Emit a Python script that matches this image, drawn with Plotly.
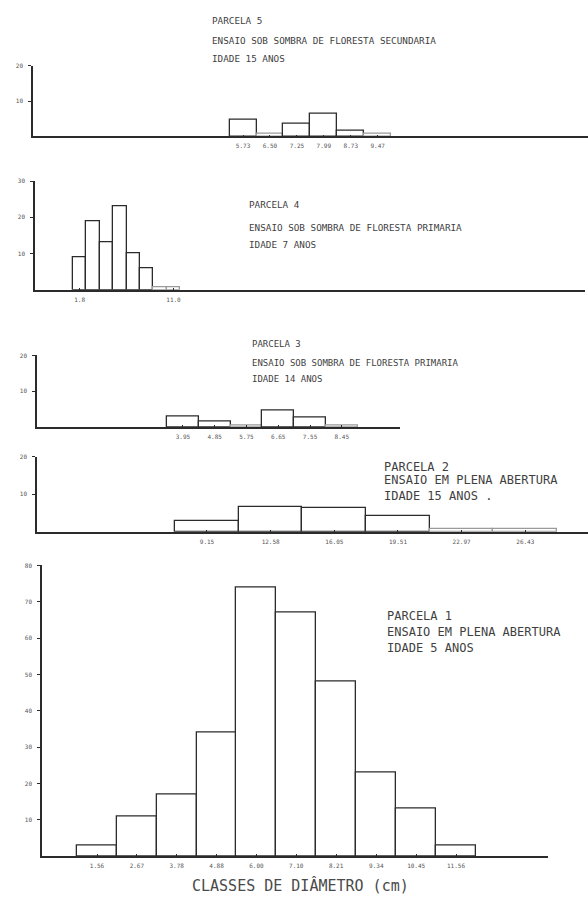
import plotly.graph_objects as go

W, H = 588, 898

# ---------------- data ----------------
# Parcela 1 - ensaio em plena abertura, idade 5 anos
p1_centers = [1.56, 2.67, 3.78, 4.89, 6.00, 7.11, 8.22, 9.34, 10.45, 11.56]
p1_labels = ["1.56", "2.67", "3.78", "4.88", "6.00", "7.10", "8.21", "9.34", "10.45", "11.56"]
p1_freq = [3, 11, 17, 34, 74, 67, 48, 23, 13, 3]

# Parcela 2 - ensaio em plena abertura, idade 15 anos
p2_centers = [9.13, 12.59, 16.05, 19.51, 22.97, 26.43]
p2_labels = ["9.15", "12.58", "16.05", "19.51", "22.97", "26.43"]
p2_freq = [2.9, 6.7, 6.4, 4.1, 0.8, 0.8]

# Parcela 3 - sombra de floresta primaria, idade 14 anos
p3_centers = [3.95, 4.85, 5.75, 6.65, 7.55, 8.45]
p3_labels = ["3.95", "4.85", "5.75", "6.65", "7.55", "8.45"]
p3_freq = [2.9, 1.6, 0.6, 4.7, 2.7, 0.5]

# Parcela 4 - sombra de floresta primaria, idade 7 anos
p4_centers = [1.80, 3.11, 4.43, 5.74, 7.06, 8.37, 9.69, 11.00]
p4_tickvals = [1.8, 11.0]
p4_labels = ["1.8", "11.0"]
p4_freq = [9, 19, 13, 23, 10, 6, 0.6, 0.6]

# Parcela 5 - sombra de floresta secundaria, idade 15 anos
p5_centers = [5.77, 6.51, 7.25, 7.99, 8.73, 9.47]
p5_labels = ["5.73", "6.50", "7.25", "7.99", "8.73", "9.47"]
p5_freq = [4.8, 0.7, 3.7, 6.5, 1.7, 0.7]

# y tick values per panel
p1_yticks = [10, 20, 30, 40, 50, 60, 70, 80]
p2_yticks = [10, 20]
p3_yticks = [10, 20]
p4_yticks = [10, 20, 30]
p5_yticks = [10, 20]

# panel captions
p1_text = ["PARCELA 1", "ENSAIO EM PLENA ABERTURA", "IDADE 5 ANOS"]
p2_text = ["PARCELA 2", "ENSAIO EM PLENA ABERTURA", "IDADE 15 ANOS ."]
p3_text = ["PARCELA 3", "ENSAIO SOB SOMBRA DE FLORESTA PRIMARIA", "IDADE 14 ANOS"]
p4_text = ["PARCELA 4", "ENSAIO SOB SOMBRA DE FLORESTA PRIMARIA", "IDADE 7 ANOS"]
p5_text = ["PARCELA 5", "ENSAIO SOB SOMBRA DE FLORESTA SECUNDARIA", "IDADE 15 ANOS"]
x_title = "CLASSES DE DIÂMETRO (cm)"

# ---------------- layout geometry (pixels) ----------------
# left, right, baseline, top, ymax, px position of x=0, px per cm
geo = {
    1: dict(left=42, right=548, base=856, top=564, ymax=80, zero=41.0, scale=35.9),
    2: dict(left=37, right=588, base=530, top=455, ymax=20, zero=39.0, scale=18.4),
    3: dict(left=37, right=400, base=425, top=353, ymax=20, zero=43.5, scale=35.3),
    4: dict(left=35, right=585, base=287, top=178, ymax=30, zero=61.3, scale=10.2),
    5: dict(left=33, right=588, base=133, top=62, ymax=20, zero=33.0, scale=36.4),
}

panels = {
    1: (p1_centers, p1_freq, p1_centers, p1_labels, p1_yticks, p1_text, (385, [615, 631, 647], 12)),
    2: (p2_centers, p2_freq, p2_centers, p2_labels, p2_yticks, p2_text, (382, [465, 478, 494], 12)),
    3: (p3_centers, p3_freq, p3_centers, p3_labels, p3_yticks, p3_text, (250, [342, 361, 377], 9.0)),
    4: (p4_centers, p4_freq, p4_tickvals, p4_labels, p4_yticks, p4_text, (247, [201, 225, 242], 9.3)),
    5: (p5_centers, p5_freq, p5_centers, p5_labels, p5_yticks, p5_text, (210, [17, 37, 55], 9.3)),
}

INK = "#2b2b2b"
FAINT = "#9a9a9a"
TXT = "#3f3f3f"
MONO = "DejaVu Sans Mono"

fig = go.Figure()
annotations = []
layout_axes = {}

for i in [1, 2, 3, 4, 5]:
    centers, freq, tv, tt, yt, caption, (tx, tys, tsize) = panels[i]
    g = geo[i]
    width = (centers[-1] - centers[0]) / (len(centers) - 1)
    line_cols = [INK if v >= 1 else FAINT for v in freq]
    xa = "x" if i == 1 else f"x{i}"
    ya = "y" if i == 1 else f"y{i}"
    fig.add_trace(go.Bar(
        x=centers, y=freq, width=width,
        marker=dict(color="white", line=dict(color=line_cols, width=1.3)),
        xaxis=xa, yaxis=ya, showlegend=False, hoverinfo="x+y",
    ))
    x0 = (g["left"] - g["zero"]) / g["scale"]
    x1 = (g["right"] - g["zero"]) / g["scale"]
    xkey = "xaxis" if i == 1 else f"xaxis{i}"
    ykey = "yaxis" if i == 1 else f"yaxis{i}"
    layout_axes[xkey] = dict(
        domain=[g["left"] / W, min(g["right"] / W, 1.0)],
        range=[x0, x1], anchor=ya,
        showline=True, linecolor=INK, linewidth=1.6,
        showgrid=False, zeroline=False,
        tickmode="array", tickvals=tv, ticktext=tt,
        ticks="inside", ticklen=2, tickcolor=INK,
        tickfont=dict(family=MONO, size=6, color="#555"),
        ticklabelstandoff=3,
        fixedrange=True,
    )
    layout_axes[ykey] = dict(
        domain=[1 - g["base"] / H, 1 - g["top"] / H],
        range=[0, g["ymax"]], anchor=xa,
        showline=True, linecolor=INK, linewidth=1.6,
        showgrid=False, zeroline=False,
        tickmode="array", tickvals=yt, ticktext=[str(v) for v in yt],
        ticks="outside", ticklen=3, tickcolor=INK,
        tickfont=dict(family=MONO, size=6, color="#555"),
        ticklabelstandoff=4,
        fixedrange=True,
    )
    for line, ty in zip(caption, tys):
        annotations.append(dict(
            text=line, x=tx / W, y=1 - ty / H, xref="paper", yref="paper",
            xanchor="left", yanchor="middle", showarrow=False,
            font=dict(family=MONO, size=tsize, color=TXT),
        ))

annotations.append(dict(
    text=x_title, x=300 / W, y=1 - 885 / H, xref="paper", yref="paper",
    xanchor="center", yanchor="middle", showarrow=False,
    font=dict(family=MONO, size=15, color="#4a4a4a"),
))

fig.update_layout(
    width=W, height=H,
    margin=dict(l=0, r=0, t=0, b=0),
    paper_bgcolor="white", plot_bgcolor="white",
    bargap=0, showlegend=False,
    annotations=annotations,
    **layout_axes,
)

fig.write_html(
    "out.html",
    config={"displayModeBar": False},
    post_script="document.body.style.margin='0';document.body.style.overflow='hidden';",
)
